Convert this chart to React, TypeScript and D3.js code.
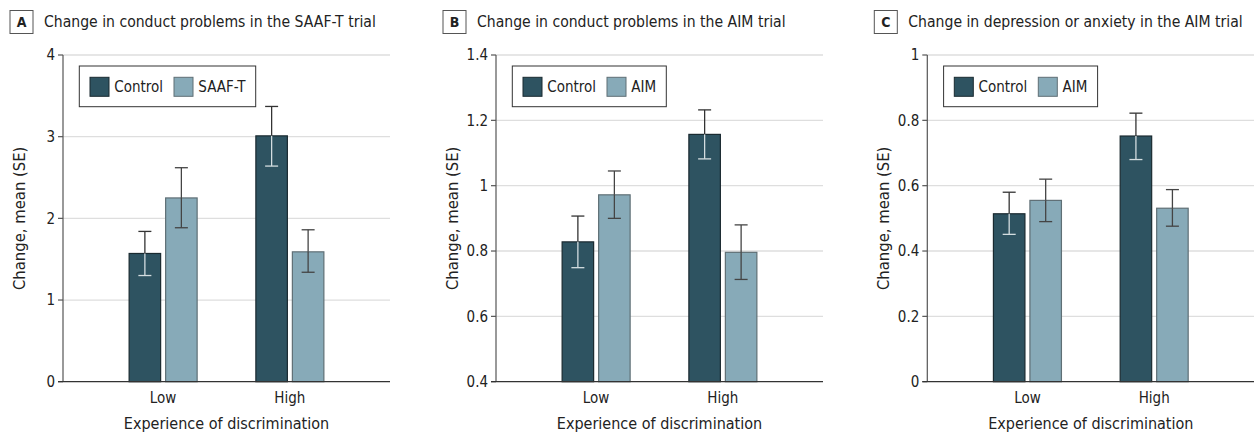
import React from 'react';
import * as d3 from 'd3';

// Shared categories and series
const categories = ['Low', 'High'];
const seriesA = ['Control', 'SAAF-T'];
const seriesBC = ['Control', 'AIM'];

// Panel A: conduct problems, SAAF-T trial
const aControl = [1.57, 3.01];
const aControlLo = [1.3, 2.64];
const aControlHi = [1.84, 3.37];
const aTreat = [2.25, 1.59];
const aTreatLo = [1.885, 1.34];
const aTreatHi = [2.62, 1.86];
const aTicks = [0, 1, 2, 3, 4];

// Panel B: conduct problems, AIM trial
const bControl = [0.828, 1.157];
const bControlLo = [0.749, 1.082];
const bControlHi = [0.907, 1.232];
const bTreat = [0.972, 0.796];
const bTreatLo = [0.9, 0.713];
const bTreatHi = [1.045, 0.88];
const bTicks = [0.4, 0.6, 0.8, 1.0, 1.2, 1.4];

// Panel C: depression or anxiety, AIM trial
const cControl = [0.514, 0.752];
const cControlLo = [0.451, 0.68];
const cControlHi = [0.58, 0.822];
const cTreat = [0.555, 0.531];
const cTreatLo = [0.49, 0.476];
const cTreatHi = [0.62, 0.588];
const cTicks = [0, 0.2, 0.4, 0.6, 0.8, 1];

const DARK = '#2e5361';
const LIGHT = '#87aab8';
const FONT = '"Liberation Sans Narrow", "DejaVu Sans Condensed", "Roboto Condensed", sans-serif';

interface PanelProps {
  x0: number;
  letter: string;
  title: string;
  series: string[];
  control: number[];
  controlLo: number[];
  controlHi: number[];
  treat: number[];
  treatLo: number[];
  treatHi: number[];
  ticks: number[];
  fmt: (v: number) => string;
  legendWidth: number;
}

function Panel(p: PanelProps) {
  const top = 55;
  const bottom = 381.7;
  const plotW = 327;
  const axisX = p.x0;

  const y = d3.scaleLinear().domain([p.ticks[0], p.ticks[p.ticks.length - 1]]).range([bottom, top]);
  const x = d3.scalePoint<string>().domain(categories).range([axisX, axisX + plotW]).padding(0.79);
  const barW = 31.5;
  const gap = 5;

  const bars: { cx: number; v: number; lo: number; hi: number; dark: boolean; key: string }[] = [];
  categories.forEach((c, i) => {
    const cx = x(c)!;
    bars.push({ cx: cx - gap / 2 - barW / 2, v: p.control[i], lo: p.controlLo[i], hi: p.controlHi[i], dark: true, key: c + 'c' });
    bars.push({ cx: cx + gap / 2 + barW / 2, v: p.treat[i], lo: p.treatLo[i], hi: p.treatHi[i], dark: false, key: c + 't' });
  });

  const cap = 6.5;
  const legX = axisX + 16.3;
  const legY = 66;

  return (
    <g>
      {/* panel letter and title */}
      <rect x={p.x0 - 53} y={10.5} width={23} height={23} fill="#fff" stroke="#555" strokeWidth={1} />
      <text x={p.x0 - 41.5} y={27} textAnchor="middle" fontSize={14} fontWeight="bold" fill="#222" fontFamily={FONT}>
        {p.letter}
      </text>
      <text x={p.x0 - 19} y={27} fontSize={15.6} fill="#222" fontFamily={FONT}>
        {p.title}
      </text>

      {/* gridlines */}
      {p.ticks.slice(1).map((t) => (
        <line key={'g' + t} x1={axisX} x2={axisX + plotW} y1={y(t)} y2={y(t)} stroke="#dedede" strokeWidth={1.3} />
      ))}

      {/* y axis */}
      <line x1={axisX} x2={axisX} y1={top} y2={bottom} stroke="#555" strokeWidth={1.2} />
      {p.ticks.map((t) => (
        <g key={'t' + t}>
          <line x1={axisX - 5} x2={axisX} y1={y(t)} y2={y(t)} stroke="#555" strokeWidth={1.2} />
          <text x={axisX - 8} y={y(t)} dy="0.35em" textAnchor="end" fontSize={15} fill="#222" fontFamily={FONT}>
            {p.fmt(t)}
          </text>
        </g>
      ))}
      <text
        transform={`translate(${axisX - 38},${(top + bottom) / 2}) rotate(-90)`}
        textAnchor="middle"
        fontSize={16.5}
        fill="#222"
        fontFamily={FONT}
      >
        Change, mean (SE)
      </text>

      {/* bars */}
      {bars.map((b) => (
        <rect
          key={b.key}
          x={b.cx - barW / 2}
          y={y(b.v)}
          width={barW}
          height={bottom - y(b.v)}
          fill={b.dark ? DARK : LIGHT}
          stroke={b.dark ? '#1a2a30' : '#5f6f75'}
          strokeWidth={1.2}
        />
      ))}

      {/* error bars */}
      {bars.map((b) => {
        const inner = b.dark ? '#d4dde0' : '#444';
        const outer = b.dark ? '#333' : '#444';
        return (
          <g key={'e' + b.key} strokeWidth={1.3}>
            <line x1={b.cx} x2={b.cx} y1={y(b.hi)} y2={y(b.v)} stroke={outer} />
            <line x1={b.cx} x2={b.cx} y1={y(b.v)} y2={y(b.lo)} stroke={inner} />
            <line x1={b.cx - cap} x2={b.cx + cap} y1={y(b.hi)} y2={y(b.hi)} stroke={outer} />
            <line x1={b.cx - cap} x2={b.cx + cap} y1={y(b.lo)} y2={y(b.lo)} stroke={inner} />
          </g>
        );
      })}

      {/* x axis */}
      <line x1={axisX - 5} x2={axisX + plotW} y1={bottom} y2={bottom} stroke="#333" strokeWidth={1.3} />
      {categories.map((c) => (
        <text key={'x' + c} x={x(c)!} y={403} textAnchor="middle" fontSize={15} fill="#222" fontFamily={FONT}>
          {c}
        </text>
      ))}
      <text x={axisX + plotW / 2} y={429} textAnchor="middle" fontSize={16} fill="#222" fontFamily={FONT}>
        Experience of discrimination
      </text>

      {/* legend */}
      <rect x={legX} y={legY} width={p.legendWidth} height={40.7} fill="#fff" stroke="#333" strokeWidth={1} />
      <rect x={legX + 10.7} y={legY + 11.3} width={19} height={19} fill={DARK} stroke="#1a2a30" strokeWidth={1} />
      <text x={legX + 35} y={legY + 21} dy="0.35em" fontSize={15} fill="#222" fontFamily={FONT}>
        {p.series[0]}
      </text>
      <rect x={legX + 94.7} y={legY + 11.3} width={19} height={19} fill={LIGHT} stroke="#5f6f75" strokeWidth={1} />
      <text x={legX + 119} y={legY + 21} dy="0.35em" fontSize={15} fill="#222" fontFamily={FONT}>
        {p.series[1]}
      </text>
    </g>
  );
}

export default function App() {
  const f0 = d3.format('~g');
  const f1 = (v: number) => (v === 1 ? '1' : v.toFixed(1));
  return (
    <svg width={1254} height={432} style={{ position: 'absolute', left: 0, top: 0, background: '#fff' }}>
      <Panel
        x0={63}
        letter="A"
        title="Change in conduct problems in the SAAF-T trial"
        series={seriesA}
        control={aControl}
        controlLo={aControlLo}
        controlHi={aControlHi}
        treat={aTreat}
        treatLo={aTreatLo}
        treatHi={aTreatHi}
        ticks={aTicks}
        fmt={f0}
        legendWidth={176.4}
      />
      <Panel
        x0={496}
        letter="B"
        title="Change in conduct problems in the AIM trial"
        series={seriesBC}
        control={bControl}
        controlLo={bControlLo}
        controlHi={bControlHi}
        treat={bTreat}
        treatLo={bTreatLo}
        treatHi={bTreatHi}
        ticks={bTicks}
        fmt={f1}
        legendWidth={154}
      />
      <Panel
        x0={927.3}
        letter="C"
        title="Change in depression or anxiety in the AIM trial"
        series={seriesBC}
        control={cControl}
        controlLo={cControlLo}
        controlHi={cControlHi}
        treat={cTreat}
        treatLo={cTreatLo}
        treatHi={cTreatHi}
        ticks={cTicks}
        fmt={(v: number) => (v === 0 || v === 1 ? String(v) : v.toFixed(1))}
        legendWidth={154}
      />
    </svg>
  );
}
